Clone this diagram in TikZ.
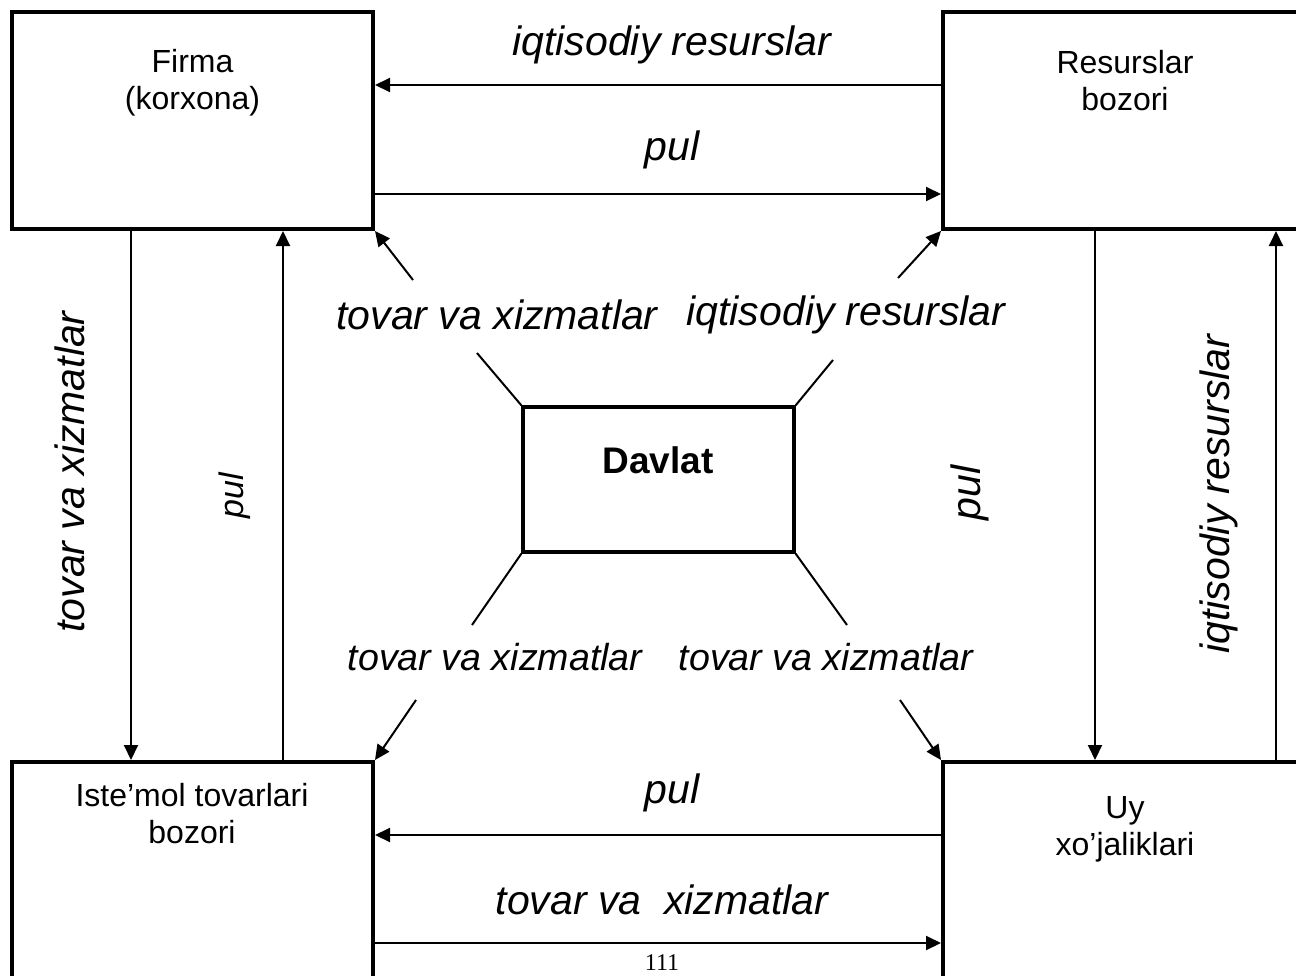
\documentclass[tikz,border=0pt]{standalone}
\usepackage{fontspec}
\setmainfont{Liberation Sans}
\newfontfamily\betfont{Liberation Serif}
\usetikzlibrary{arrows.meta}

\begin{document}
\begin{tikzpicture}[x=0.5pt,y=-0.5pt,
  blok/.style={draw=black,line width=2pt,minimum width=180.5pt,minimum height=108.5pt},
  oqim/.style={line width=1pt,-{Triangle[length=7.5pt,width=7pt]}},
  chiziq/.style={line width=1pt},
  matn/.style={font=\fontsize{16}{18.5}\selectfont,align=center,inner sep=0pt},
  yozuv/.style={font=\fontsize{20.5}{24}\selectfont\itshape,inner sep=0pt},
  kichik/.style={font=\fontsize{18.8}{22}\selectfont\itshape,inner sep=0pt}]
\path[use as bounding box] (0,0) rectangle (1296,975);
\clip (0,0) rectangle (1296,975);
% bloklar
\node[blok] (firma) at (192.5,120.5) {};
\node[blok] (resurs) at (1123.5,120.5) {};
\node[blok] (istemol) at (192.5,870.5) {};
\node[blok] (uy) at (1123.5,870.5) {};
\node[draw=black,line width=1.6pt,minimum width=135.5pt,minimum height=72.5pt] (davlat) at (658.5,479.5) {};
\node[matn] (firmatxt) at (192.5,83) {Firma\\(korxona)};
\node[matn] (resurstxt) at (1125,81) {Resurslar\\bozori};
\node[matn] (istemoltxt) at (192,814) {Iste’mol tovarlari\\bozori};
\node[matn] (uytxt) at (1125,829) {Uy\\xo’jaliklari};
\node[font=\fontsize{18.5}{20}\selectfont\bfseries,inner sep=0pt] (davlattxt) at (658,460) {Davlat};
% oqimlar
\draw[oqim] (resurs.west |- 0,85) -- (firma.east |- 0,85);
\draw[oqim] (firma.east |- 0,194) -- (resurs.west |- 0,194);
\draw[oqim] (firma.south -| 131,0) -- (istemol.north -| 131,0);
\draw[oqim] (istemol.north -| 283,0) -- (firma.south -| 283,0);
\draw[oqim] (resurs.south -| 1095,0) -- (uy.north -| 1095,0);
\draw[oqim] (uy.north -| 1276,0) -- (resurs.south -| 1276,0);
\draw[oqim] (uy.west |- 0,835) -- (istemol.east |- 0,835);
\draw[oqim] (istemol.east |- 0,943) -- (uy.west |- 0,943);
% davlat bilan
\coordinate (tl1) at (477,353);
\coordinate (tl2) at (413,280);
\coordinate (tr1) at (833,360);
\coordinate (tr2) at (898,278);
\coordinate (bl1) at (472,625);
\coordinate (bl2) at (416,700);
\coordinate (br1) at (847,625);
\coordinate (br2) at (900,700);
\draw[chiziq] (davlat.north west) -- (tl1);
\draw[oqim] (tl2) -- (firma.south east);
\draw[chiziq] (davlat.north east) -- (tr1);
\draw[oqim] (tr2) -- (resurs.south west);
\draw[chiziq] (davlat.south west) -- (bl1);
\draw[oqim] (bl2) -- (istemol.north east);
\draw[chiziq] (davlat.south east) -- (br1);
\draw[oqim] (br2) -- (uy.north west);
% yozuvlar
\node[yozuv] (y1) at (672,45) {iqtisodiy resurslar};
\node[yozuv] (y2) at (672,150) {pul};
\node[yozuv] (y3) at (497,315) {tovar va xizmatlar};
\node[yozuv] (y4) at (846,315) {iqtisodiy resurslar};
\node[kichik] (y5) at (495,657) {tovar va xizmatlar};
\node[kichik] (y6) at (826,657) {tovar va xizmatlar};
\node[yozuv] (y7) at (672,793) {pul};
\node[yozuv] (y8) at (662,900) {tovar va\ \ xizmatlar};
\node[yozuv,rotate=90] (y9) at (70,472) {tovar va xizmatlar};
\node[yozuv,rotate=90,font=\fontsize{17}{20}\selectfont\itshape] (y10) at (235,496) {pul};
\node[yozuv,rotate=90] (y11) at (970,493) {pul};
\node[yozuv,rotate=90] (y12) at (1219,494) {iqtisodiy resurslar};
\node[font=\betfont\fontsize{12}{14}\selectfont,inner sep=0pt] (bet) at (662,963) {111};
\end{tikzpicture}
\end{document}
